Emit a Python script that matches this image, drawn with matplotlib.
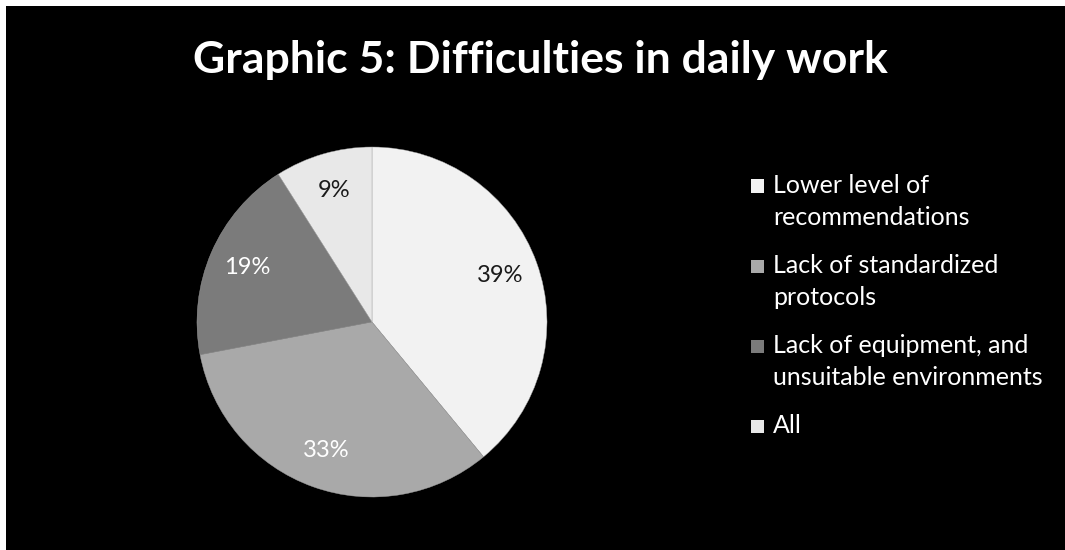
import matplotlib
matplotlib.use("Agg")
import matplotlib.pyplot as plt
from matplotlib.patches import Rectangle

categories = [
    "Lower level of\nrecommendations",
    "Lack of standardized\nprotocols",
    "Lack of equipment, and\nunsuitable environments",
    "All",
]
shares = [39, 33, 19, 9]
slice_colors = ["#f2f2f2", "#a9a9a9", "#7b7b7b", "#e8e8e8"]
label_colors = ["#1a1a1a", "#ffffff", "#ffffff", "#1a1a1a"]
title = "Graphic 5: Difficulties in daily work"

plt.rcParams["font.family"] = ["Lato", "DejaVu Sans"]

W, H = 1065, 550
fig = plt.figure(figsize=(W / 100, H / 100), dpi=100, facecolor="black")
# thin white strips along the top and left edges
fig.patches.append(Rectangle((0, 1 - 6 / H), 1, 6 / H, transform=fig.transFigure,
                             facecolor="white", edgecolor="none", zorder=-1))
fig.patches.append(Rectangle((0, 0), 6 / W, 1, transform=fig.transFigure,
                             facecolor="white", edgecolor="none", zorder=-1))

R = 178
ax = fig.add_axes([(372 - R) / W, (H - 322 - R) / H, 2 * R / W, 2 * R / H])
ax.set_facecolor("none")

wedges, texts, autotexts = ax.pie(
    shares, colors=slice_colors, startangle=90, counterclock=False,
    autopct=lambda p: f"{p:.0f}%", pctdistance=0.78,
    wedgeprops=dict(edgecolor="#a0a0a0", linewidth=0.3),
    textprops=dict(fontsize=17),
    radius=175 / R,
)
for t, c in zip(autotexts, label_colors):
    t.set_color(c)
ax.set_xlim(-1, 1)
ax.set_ylim(-1, 1)
ax.set_aspect("equal")

fig.text(540 / W, 1 - 60 / H, title, ha="center", va="center",
         color="white", fontsize=32, fontweight="bold")

# legend entries: square swatch beside the first line of each label
first_line_y = [186, 266, 346, 426]
for wedge, label, yc in zip(wedges, categories, first_line_y):
    fig.patches.append(Rectangle((751 / W, 1 - (yc + 6.5) / H), 13 / W, 13 / H,
                                 transform=fig.transFigure,
                                 facecolor=wedge.get_facecolor(),
                                 edgecolor="none"))
    fig.text(773 / W, 1 - (yc - 12) / H, label, ha="left", va="top",
             color="white", fontsize=18, linespacing=1.45)

fig.savefig("out.png", dpi=100, facecolor="black")
